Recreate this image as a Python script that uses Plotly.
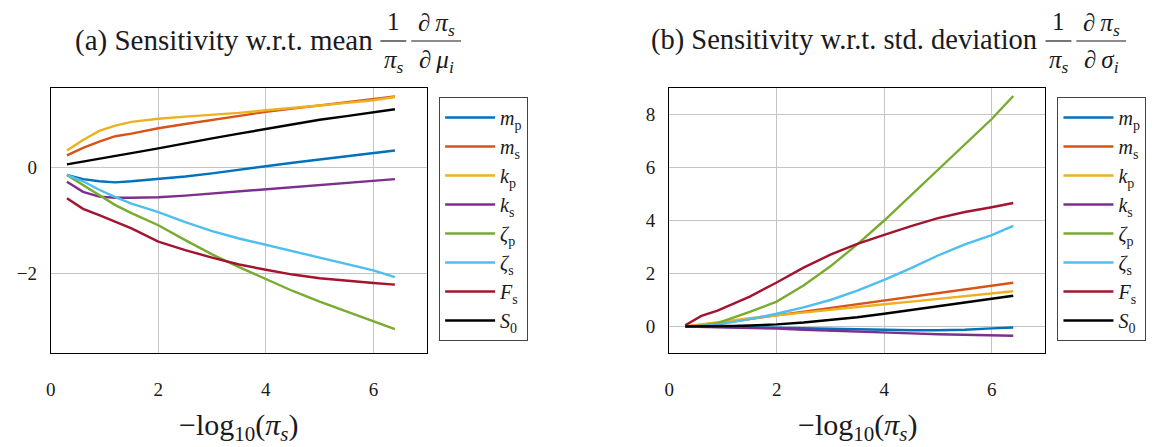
import plotly.graph_objects as go

W, H = 1161, 447

# x values: -log10(pi_s)
x_vals = [0.3, 0.6, 0.9, 1.2, 1.5, 2.0, 2.5, 3.0, 3.5, 4.0, 4.5, 5.0, 5.5, 6.0, 6.4]

labels = ["<i>m</i><sub>p</sub>", "<i>m</i><sub>s</sub>", "<i>k</i><sub>p</sub>", "<i>k</i><sub>s</sub>",
          "<i>ζ</i><sub>p</sub>", "<i>ζ</i><sub>s</sub>", "<i>F</i><sub>s</sub>", "<i>S</i><sub>0</sub>"]
colors = ["#0072BD", "#D95319", "#EDB120", "#7E2F8E", "#77AC30", "#4DBEEE", "#A2142F", "#000000"]

# (a) sensitivity w.r.t. mean
mean_mp = [-0.14, -0.22, -0.26, -0.28, -0.26, -0.22, -0.17, -0.11, -0.04, 0.03, 0.09, 0.15, 0.21, 0.27, 0.32]
mean_ms = [0.23, 0.37, 0.49, 0.59, 0.64, 0.74, 0.82, 0.90, 0.97, 1.05, 1.11, 1.17, 1.23, 1.29, 1.34]
mean_kp = [0.32, 0.52, 0.69, 0.79, 0.86, 0.92, 0.96, 0.99, 1.03, 1.08, 1.12, 1.17, 1.22, 1.27, 1.33]
mean_ks = [-0.27, -0.46, -0.55, -0.57, -0.57, -0.56, -0.53, -0.49, -0.45, -0.41, -0.37, -0.33, -0.29, -0.25, -0.22]
mean_zp = [-0.14, -0.33, -0.52, -0.71, -0.86, -1.09, -1.37, -1.64, -1.88, -2.11, -2.33, -2.53, -2.72, -2.90, -3.05]
mean_zs = [-0.14, -0.26, -0.42, -0.56, -0.68, -0.84, -1.03, -1.20, -1.34, -1.46, -1.58, -1.70, -1.82, -1.94, -2.07]
mean_Fs = [-0.58, -0.78, -0.90, -1.02, -1.15, -1.40, -1.56, -1.70, -1.83, -1.93, -2.02, -2.09, -2.14, -2.18, -2.21]
mean_S0 = [0.06, 0.11, 0.16, 0.22, 0.27, 0.36, 0.46, 0.55, 0.64, 0.73, 0.82, 0.90, 0.97, 1.04, 1.10]

# (b) sensitivity w.r.t. std. deviation
std_mp = [0.0, 0.0, -0.01, -0.02, -0.03, -0.05, -0.08, -0.10, -0.12, -0.13, -0.14, -0.14, -0.12, -0.07, -0.04]
std_ms = [0.0, 0.06, 0.13, 0.20, 0.28, 0.42, 0.56, 0.70, 0.83, 0.97, 1.10, 1.24, 1.38, 1.52, 1.65]
std_kp = [0.0, 0.08, 0.16, 0.24, 0.31, 0.42, 0.53, 0.64, 0.74, 0.84, 0.94, 1.04, 1.14, 1.24, 1.33]
std_ks = [0.0, -0.01, -0.02, -0.03, -0.05, -0.08, -0.12, -0.16, -0.20, -0.23, -0.26, -0.29, -0.31, -0.33, -0.35]
std_zp = [0.0, 0.03, 0.13, 0.33, 0.55, 0.94, 1.55, 2.27, 3.10, 4.00, 4.95, 5.92, 6.88, 7.83, 8.70]
std_zs = [0.0, 0.02, 0.07, 0.17, 0.28, 0.48, 0.72, 1.00, 1.35, 1.76, 2.20, 2.68, 3.10, 3.45, 3.80]
std_Fs = [0.05, 0.40, 0.60, 0.86, 1.13, 1.66, 2.22, 2.71, 3.12, 3.46, 3.79, 4.09, 4.32, 4.50, 4.66]
std_S0 = [0.0, 0.0, 0.01, 0.02, 0.04, 0.08, 0.15, 0.24, 0.35, 0.48, 0.62, 0.77, 0.92, 1.06, 1.16]

mean_series = [mean_mp, mean_ms, mean_kp, mean_ks, mean_zp, mean_zs, mean_Fs, mean_S0]
std_series = [std_mp, std_ms, std_kp, std_ks, std_zp, std_zs, std_Fs, std_S0]

FONT = "Liberation Serif"
TXT = "#1a1a1a"

fig = go.Figure()
for lab, col, ys in zip(labels, colors, mean_series):
    fig.add_trace(go.Scatter(x=x_vals, y=ys, mode="lines", name=lab,
                             line=dict(color=col, width=2.4),
                             xaxis="x", yaxis="y", legend="legend"))
for lab, col, ys in zip(labels, colors, std_series):
    fig.add_trace(go.Scatter(x=x_vals, y=ys, mode="lines", name=lab,
                             line=dict(color=col, width=2.4),
                             xaxis="x2", yaxis="y2", legend="legend2"))

def px2x(p):
    return p / W

def px2y(p):
    return 1 - p / H

axis_common = dict(showgrid=True, gridcolor="#c4c4c4", gridwidth=1, zeroline=False,
                   showline=True, linecolor="black", linewidth=1, mirror=True,
                   ticks="", tickfont=dict(family=FONT, size=19, color=TXT))

ydom = [px2y(353), px2y(88)]
leg_common = dict(xanchor="left", yanchor="top", bordercolor="#444", borderwidth=1,
                  bgcolor="white", itemwidth=50, tracegroupgap=0,
                  font=dict(family=FONT, size=20, color=TXT))
fig.update_layout(
    width=W, height=H, margin=dict(l=0, r=0, t=0, b=0),
    paper_bgcolor="white", plot_bgcolor="white",
    font=dict(family=FONT, color=TXT),
    xaxis=dict(domain=[px2x(46), px2x(424)], range=[0, 7], tick0=0, dtick=2,
               anchor="y", ticklabelstandoff=19, **axis_common),
    yaxis=dict(domain=ydom, range=[-3.5, 1.5], tick0=0, dtick=2, anchor="x",
               ticklabelstandoff=9, **axis_common),
    xaxis2=dict(domain=[px2x(667), px2x(1045)], range=[0, 7], tick0=0, dtick=2,
                anchor="y2", ticklabelstandoff=19, **axis_common),
    yaxis2=dict(domain=ydom, range=[-1, 9], tick0=0, dtick=2, anchor="x2",
                ticklabelstandoff=9, **axis_common),
    legend=dict(x=px2x(436), y=px2y(97), **leg_common),
    legend2=dict(x=px2x(1057), y=px2y(97), **leg_common),
    showlegend=True,
)

def ann(text, xp, yp, xanchor="center", size=25):
    fig.add_annotation(text=text, x=px2x(xp), y=px2y(yp), xref="paper", yref="paper",
                       xanchor=xanchor, yanchor="middle", showarrow=False,
                       font=dict(family=FONT, size=size, color=TXT))

def hbar(x0, x1, yp):
    fig.add_shape(type="line", xref="paper", yref="paper",
                  x0=px2x(x0), x1=px2x(x1), y0=px2y(yp), y1=px2y(yp),
                  line=dict(color=TXT, width=1.2))

TSP = "\u2009"

# Title (a)
ann("(a) Sensitivity w.r.t. mean", 372, 40, xanchor="right", size=29)
ann("1", 390, 22)
ann("<i>π</i><sub><i>s</i></sub>", 391, 62)
hbar(377, 403, 41)
ann("∂" + TSP + "<i>π</i><sub><i>s</i></sub>", 433, 24)
ann("∂" + TSP + "<i>μ</i><sub><i>i</i></sub>", 433, 62)
hbar(408, 458, 41)

# Title (b)
ann("(b) Sensitivity w.r.t. std. deviation", 1038, 40, xanchor="right", size=28.5)
ann("1", 1058, 22)
ann("<i>π</i><sub><i>s</i></sub>", 1059, 62)
hbar(1045, 1071, 41)
ann("∂" + TSP + "<i>π</i><sub><i>s</i></sub>", 1101, 24)
ann("∂" + TSP + "<i>σ</i><sub><i>i</i></sub>", 1101, 62)
hbar(1076, 1126, 41)

# x-axis titles
ann("−log<sub>10</sub>(<i>π</i><sub><i>s</i></sub>)", 235, 427, size=30)
ann("−log<sub>10</sub>(<i>π</i><sub><i>s</i></sub>)", 856, 427, size=30)

fig.write_html("out.html", config={"displayModeBar": False},
               post_script="document.body.style.margin='0px';")
